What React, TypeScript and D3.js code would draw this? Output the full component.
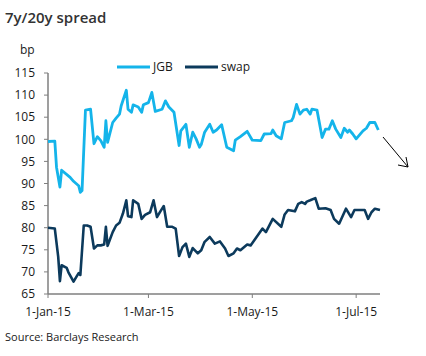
import React from "react";
import * as d3 from "d3";

const jgbDates = ["2015-01-01","2015-01-05","2015-01-06","2015-01-08","2015-01-09","2015-01-14","2015-01-16","2015-01-19","2015-01-20","2015-01-21","2015-01-23","2015-01-26","2015-01-28","2015-01-30","2015-02-01","2015-02-03","2015-02-04","2015-02-05","2015-02-08","2015-02-10","2015-02-12","2015-02-13","2015-02-16","2015-02-17","2015-02-19","2015-02-20","2015-02-23","2015-02-25","2015-02-26","2015-03-01","2015-03-03","2015-03-05","2015-03-09","2015-03-11","2015-03-13","2015-03-16","2015-03-19","2015-03-20","2015-03-23","2015-03-25","2015-03-27","2015-03-29","2015-03-31","2015-04-01","2015-04-03","2015-04-06","2015-04-08","2015-04-10","2015-04-13","2015-04-16","2015-04-20","2015-04-21","2015-04-24","2015-04-28","2015-05-01","2015-05-06","2015-05-08","2015-05-12","2015-05-13","2015-05-15","2015-05-18","2015-05-20","2015-05-24","2015-05-25","2015-05-27","2015-05-29","2015-05-31","2015-06-02","2015-06-04","2015-06-05","2015-06-08","2015-06-11","2015-06-13","2015-06-15","2015-06-17","2015-06-19","2015-06-22","2015-06-24","2015-06-26","2015-06-27","2015-06-29","2015-07-01","2015-07-05","2015-07-07","2015-07-09","2015-07-12","2015-07-14"];
const jgbValues = [99.5,99.6,93.7,89.2,93,91.4,90.5,89.5,88,88.4,106.6,106.8,99,100.6,99.7,98.2,104.2,99.3,103.8,104.8,105.7,107.6,111.1,106.8,106.1,107.8,107.3,106.1,107.8,108.3,110.6,106.3,106.8,108.7,107.3,106.1,98.6,101.9,103.4,98.2,101.6,100.1,98.2,98.8,101.6,103.4,101.6,102.1,103.3,98.2,97.4,99.8,100.6,101.8,99.8,99.7,101.2,101.3,102.1,100.8,100.1,103.8,104.2,104.9,107.9,105.7,106.6,106.8,105.7,106.8,106.6,100.4,102.3,102.3,104.2,102.3,100.4,102.5,101.6,102.1,101.2,100.1,101.9,102.5,103.8,103.8,102.1];

const swapDates = ["2015-01-01","2015-01-05","2015-01-07","2015-01-08","2015-01-09","2015-01-12","2015-01-13","2015-01-16","2015-01-18","2015-01-19","2015-01-20","2015-01-22","2015-01-24","2015-01-26","2015-01-28","2015-01-30","2015-02-01","2015-02-03","2015-02-04","2015-02-05","2015-02-08","2015-02-10","2015-02-12","2015-02-14","2015-02-16","2015-02-17","2015-02-19","2015-02-20","2015-02-23","2015-02-25","2015-02-27","2015-03-02","2015-03-04","2015-03-06","2015-03-08","2015-03-10","2015-03-12","2015-03-15","2015-03-17","2015-03-19","2015-03-21","2015-03-23","2015-03-25","2015-03-27","2015-03-30","2015-04-01","2015-04-03","2015-04-06","2015-04-09","2015-04-12","2015-04-15","2015-04-17","2015-04-20","2015-04-22","2015-04-24","2015-04-28","2015-04-30","2015-05-07","2015-05-09","2015-05-13","2015-05-18","2015-05-20","2015-05-22","2015-05-26","2015-05-28","2015-05-30","2015-06-01","2015-06-02","2015-06-04","2015-06-07","2015-06-09","2015-06-13","2015-06-16","2015-06-18","2015-06-21","2015-06-25","2015-06-28","2015-06-30","2015-07-06","2015-07-08","2015-07-10","2015-07-12","2015-07-15"];
const swapValues = [80,79.8,73.4,67.9,71.5,70.9,69.9,67.8,69.1,69.7,69.3,80.5,80.5,80.2,75.3,76,76,76.2,80.2,75.9,79,80.5,81.1,83.2,86.2,82.6,82.4,86.2,85.4,82,82.9,83.5,86.2,82.4,83.7,84.9,80.2,80.2,79.8,73.6,75.6,76.4,73.4,75.4,74.2,74.9,76.8,77.9,76.4,76.9,75.3,73.6,74.2,75.3,74.9,76.2,76,79.8,79,82,80.2,83,84,83.7,85.4,85.8,85.4,85.9,86.2,86.7,84.3,84.4,84,82,80.9,84.3,82.4,84,84,82,83.5,84.3,84];

const yTicks = [65,70,75,80,85,90,95,100,105,110,115];
const xTickDates = ["2015-01-01","2015-03-01","2015-05-01","2015-07-01"];
const xTickLabels = ["1-Jan-15","1-Mar-15","1-May-15","1-Jul-15"];
const seriesNames = ["JGB","swap"];
const seriesColors = ["#14b4ea","#0c3a5c"];

const parse = d3.timeParse("%Y-%m-%d");

export default function App() {
  const left = 48, right = 380, top = 73, bottom = 294;
  const x = d3.scaleTime().domain([parse("2015-01-01")!, parse("2015-07-15")!]).range([left, right]);
  const y = d3.scaleLinear().domain([65, 115]).range([bottom, top]);
  const line = d3.line<[Date, number]>().x(d => x(d[0])).y(d => y(d[1]));
  const jgb: [Date, number][] = jgbDates.map((d, i) => [parse(d)!, jgbValues[i]]);
  const swap: [Date, number][] = swapDates.map((d, i) => [parse(d)!, swapValues[i]]);
  const font = "'Open Sans', 'Noto Sans', sans-serif";
  const axisColor = "#7f7f7f";
  const textColor = "#1a1a1a";
  return (
    <svg width={426} height={356} style={{ position: "absolute", left: 0, top: 0, background: "#fff" }} fontFamily={font}>
      <text x={5} y={23} fontSize={15} fontWeight={600} fill="#333">7y/20y spread</text>
      <text x={20} y={54} fontSize={12} fill={textColor}>bp</text>
      {/* y axis */}
      <line x1={left} x2={left} y1={top} y2={bottom} stroke={axisColor} strokeWidth={1.5} />
      {yTicks.map(t => (
        <g key={t}>
          <line x1={left - 4} x2={left} y1={y(t)} y2={y(t)} stroke={axisColor} strokeWidth={1} />
          <text x={35} y={y(t)} dy="0.35em" textAnchor="end" fontSize={12} fill={textColor}>{t}</text>
        </g>
      ))}
      {/* x axis */}
      <line x1={left} x2={right} y1={bottom} y2={bottom} stroke={axisColor} strokeWidth={1.5} />
      {xTickDates.map((d, i) => (
        <g key={d}>
          <line x1={x(parse(d)!)} x2={x(parse(d)!)} y1={bottom} y2={bottom + 4} stroke={axisColor} strokeWidth={1} />
          <text x={x(parse(d)!)} y={bottom + 22} textAnchor="middle" fontSize={12} fill={textColor}>{xTickLabels[i]}</text>
        </g>
      ))}
      <path d={line(jgb)!} fill="none" stroke={seriesColors[0]} strokeWidth={2.8} strokeLinejoin="round" />
      <path d={line(swap)!} fill="none" stroke={seriesColors[1]} strokeWidth={2.6} strokeLinejoin="round" />
      {/* legend */}
      <line x1={117} x2={150} y1={67} y2={67} stroke={seriesColors[0]} strokeWidth={2.8} />
      <text x={153} y={67} dy="0.35em" fontSize={12} fill={textColor}>{seriesNames[0]}</text>
      <line x1={185} x2={218} y1={67} y2={67} stroke={seriesColors[1]} strokeWidth={2.8} />
      <text x={221} y={67} dy="0.35em" fontSize={12} fill={textColor}>{seriesNames[1]}</text>
      {/* annotation arrow */}
      <line x1={383} y1={137} x2={408} y2={167} stroke="#000" strokeWidth={1} />
      <polyline points="398,165 408,167 406,157" fill="none" stroke="#000" strokeWidth={1} />
      <text x={5} y={341} fontSize={11} fill={textColor}>Source: Barclays Research</text>
    </svg>
  );
}
